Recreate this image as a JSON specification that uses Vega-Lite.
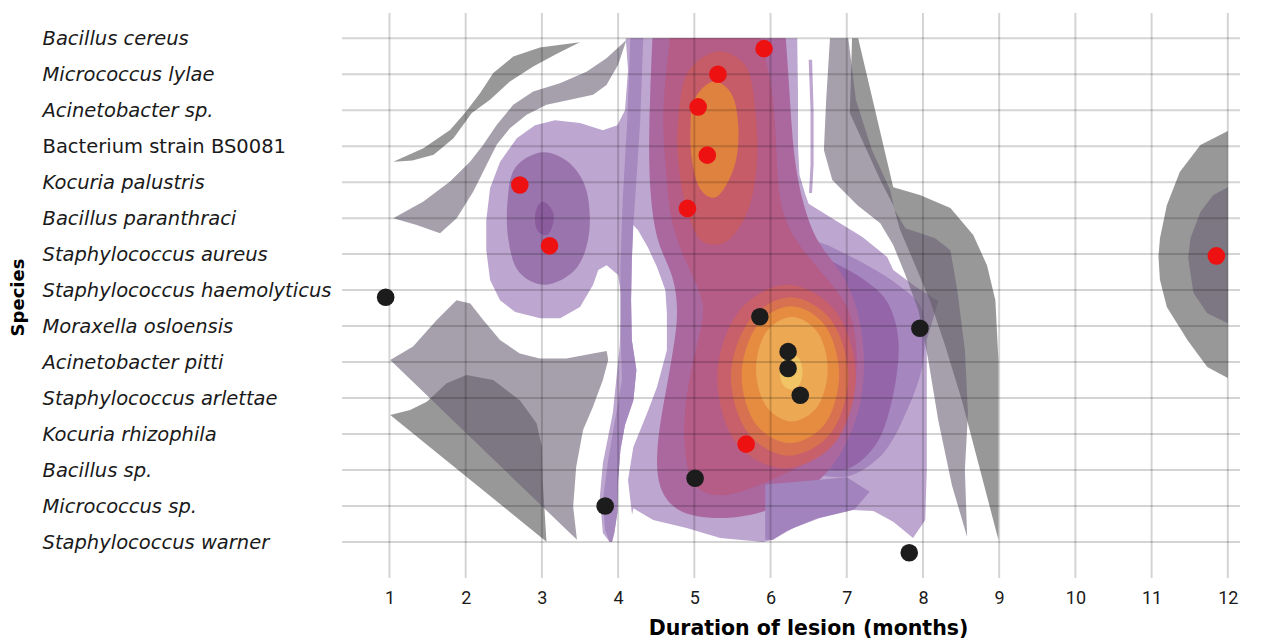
{
"$schema": "https://vega.github.io/schema/vega-lite/v6.json",
"width": 898, "height": 565,
"autosize": {"type": "none"},
"padding": {"left": 342, "top": 13, "right": 30, "bottom": 61},
"background": "#ffffff",
"config": {"view": {"stroke": null}},
"datasets": {
"polys": [
{"p":"P1","l":"P1","x":4.10,"y":1.0},{"p":"P1","l":"P1","x":5.2,"y":1.0},{"p":"P1","l":"P1","x":6.35,"y":1.0},{"p":"P1","l":"P1","x":6.36,"y":2.5},{"p":"P1","l":"P1","x":6.36,"y":4.0},{"p":"P1","l":"P1","x":6.38,"y":4.8},{"p":"P1","l":"P1","x":6.45,"y":5.3},{"p":"P1","l":"P1","x":6.5,"y":5.6},{"p":"P1","l":"P1","x":6.78,"y":5.97},{"p":"P1","l":"P1","x":7.21,"y":6.53},{"p":"P1","l":"P1","x":7.53,"y":7.08},{"p":"P1","l":"P1","x":7.61,"y":7.44},{"p":"P1","l":"P1","x":7.9,"y":7.9},{"p":"P1","l":"P1","x":8.2,"y":8.3},{"p":"P1","l":"P1","x":8.05,"y":9.39},{"p":"P1","l":"P1","x":8.05,"y":11.06},{"p":"P1","l":"P1","x":8.05,"y":13.0},{"p":"P1","l":"P1","x":8.03,"y":14.39},{"p":"P1","l":"P1","x":7.87,"y":14.89},{"p":"P1","l":"P1","x":7.61,"y":14.44},{"p":"P1","l":"P1","x":7.35,"y":14.14},{"p":"P1","l":"P1","x":7.08,"y":14.11},{"p":"P1","l":"P1","x":6.65,"y":14.33},{"p":"P1","l":"P1","x":6.30,"y":14.61},{"p":"P1","l":"P1","x":6.03,"y":14.94},{"p":"P1","l":"P1","x":5.90,"y":15.0},{"p":"P1","l":"P1","x":5.34,"y":14.89},{"p":"P1","l":"P1","x":4.90,"y":14.61},{"p":"P1","l":"P1","x":4.46,"y":14.39},{"p":"P1","l":"P1","x":4.20,"y":14.06},{"p":"P1","l":"P1","x":4.16,"y":14.5},{"p":"P1","l":"P1","x":3.99,"y":14.94},{"p":"P1","l":"P1","x":3.89,"y":15.0},{"p":"P1","l":"P1","x":3.80,"y":14.75},{"p":"P1","l":"P1","x":3.76,"y":13.75},{"p":"P1","l":"P1","x":3.80,"y":12.81},{"p":"P1","l":"P1","x":3.93,"y":11.42},{"p":"P1","l":"P1","x":4.02,"y":9.58},{"p":"P1","l":"P1","x":4.05,"y":8.28},{"p":"P1","l":"P1","x":4.0,"y":7.58},{"p":"P1","l":"P1","x":3.85,"y":7.31},{"p":"P1","l":"P1","x":3.74,"y":7.44},{"p":"P1","l":"P1","x":3.67,"y":7.86},{"p":"P1","l":"P1","x":3.50,"y":8.47},{"p":"P1","l":"P1","x":3.24,"y":8.78},{"p":"P1","l":"P1","x":2.98,"y":8.78},{"p":"P1","l":"P1","x":2.65,"y":8.61},{"p":"P1","l":"P1","x":2.45,"y":8.28},{"p":"P1","l":"P1","x":2.32,"y":7.72},{"p":"P1","l":"P1","x":2.27,"y":6.89},{"p":"P1","l":"P1","x":2.27,"y":6.06},{"p":"P1","l":"P1","x":2.32,"y":5.17},{"p":"P1","l":"P1","x":2.45,"y":4.44},{"p":"P1","l":"P1","x":2.67,"y":3.78},{"p":"P1","l":"P1","x":2.91,"y":3.42},{"p":"P1","l":"P1","x":3.17,"y":3.28},{"p":"P1","l":"P1","x":3.50,"y":3.36},{"p":"P1","l":"P1","x":3.80,"y":3.56},{"p":"P1","l":"P1","x":3.99,"y":3.42},{"p":"P1","l":"P1","x":4.09,"y":3.0},{"p":"P1","l":"P1","x":4.13,"y":1.89},
{"p":"P1t","l":"P1","x":6.50,"y":1.6},{"p":"P1t","l":"P1","x":6.545,"y":1.6},{"p":"P1t","l":"P1","x":6.565,"y":3.0},{"p":"P1t","l":"P1","x":6.565,"y":4.5},{"p":"P1t","l":"P1","x":6.545,"y":5.3},{"p":"P1t","l":"P1","x":6.505,"y":5.3},{"p":"P1t","l":"P1","x":6.525,"y":4.5},{"p":"P1t","l":"P1","x":6.525,"y":3.0},
{"p":"W2","l":"W","x":4.196,"y":6.19},{"p":"W2","l":"W","x":4.18,"y":7.17},{"p":"W2","l":"W","x":4.17,"y":8.28},{"p":"W2","l":"W","x":4.18,"y":9.39},{"p":"W2","l":"W","x":4.24,"y":10.22},{"p":"W2","l":"W","x":4.20,"y":11.06},{"p":"W2","l":"W","x":4.09,"y":11.75},{"p":"W2","l":"W","x":4.03,"y":12.44},{"p":"W2","l":"W","x":4.0,"y":13.28},{"p":"W2","l":"W","x":3.99,"y":14.19},{"p":"W2","l":"W","x":3.95,"y":14.75},{"p":"W2","l":"W","x":3.92,"y":15.0},{"p":"W2","l":"W","x":4.29,"y":15.0},{"p":"W2","l":"W","x":4.18,"y":14.19},{"p":"W2","l":"W","x":4.13,"y":13.28},{"p":"W2","l":"W","x":4.20,"y":12.36},{"p":"W2","l":"W","x":4.38,"y":11.42},{"p":"W2","l":"W","x":4.51,"y":10.69},{"p":"W2","l":"W","x":4.64,"y":9.67},{"p":"W2","l":"W","x":4.64,"y":8.64},{"p":"W2","l":"W","x":4.62,"y":8.0},{"p":"W2","l":"W","x":4.51,"y":7.36},{"p":"W2","l":"W","x":4.39,"y":6.81},{"p":"W2","l":"W","x":4.26,"y":6.33},
{"p":"S","l":"S","x":4.16,"y":1.0},{"p":"S","l":"S","x":4.12,"y":3.28},{"p":"S","l":"S","x":4.06,"y":5.5},{"p":"S","l":"S","x":4.03,"y":7.31},{"p":"S","l":"S","x":4.03,"y":9.11},{"p":"S","l":"S","x":4.05,"y":10.5},{"p":"S","l":"S","x":3.96,"y":11.61},{"p":"S","l":"S","x":3.87,"y":12.72},{"p":"S","l":"S","x":3.80,"y":13.83},{"p":"S","l":"S","x":3.83,"y":14.67},{"p":"S","l":"S","x":3.89,"y":15.0},{"p":"S","l":"S","x":3.92,"y":15.0},{"p":"S","l":"S","x":3.95,"y":14.75},{"p":"S","l":"S","x":3.99,"y":14.19},{"p":"S","l":"S","x":4.0,"y":13.28},{"p":"S","l":"S","x":4.03,"y":12.44},{"p":"S","l":"S","x":4.09,"y":11.75},{"p":"S","l":"S","x":4.20,"y":11.06},{"p":"S","l":"S","x":4.24,"y":10.22},{"p":"S","l":"S","x":4.18,"y":9.39},{"p":"S","l":"S","x":4.17,"y":8.28},{"p":"S","l":"S","x":4.18,"y":7.17},{"p":"S","l":"S","x":4.20,"y":6.19},{"p":"S","l":"S","x":4.24,"y":4.94},{"p":"S","l":"S","x":4.29,"y":3.28},{"p":"S","l":"S","x":4.33,"y":1.0},
{"p":"L2","l":"L2","x":2.55,"y":5.5},{"p":"L2","l":"L2","x":2.65,"y":4.6},{"p":"L2","l":"L2","x":3.0,"y":4.17},{"p":"L2","l":"L2","x":3.35,"y":4.45},{"p":"L2","l":"L2","x":3.58,"y":5.2},{"p":"L2","l":"L2","x":3.62,"y":6.4},{"p":"L2","l":"L2","x":3.45,"y":7.4},{"p":"L2","l":"L2","x":3.05,"y":7.85},{"p":"L2","l":"L2","x":2.7,"y":7.5},{"p":"L2","l":"L2","x":2.56,"y":6.6},
{"p":"L3","l":"L3","x":3.03,"y":5.55},{"p":"L3","l":"L3","x":3.14,"y":5.8},{"p":"L3","l":"L3","x":3.15,"y":6.1},{"p":"L3","l":"L3","x":3.1,"y":6.4},{"p":"L3","l":"L3","x":3.02,"y":6.47},{"p":"L3","l":"L3","x":2.93,"y":6.3},{"p":"L3","l":"L3","x":2.91,"y":5.95},{"p":"L3","l":"L3","x":2.95,"y":5.65},
{"p":"RP1","l":"RP1","x":6.15,"y":5.0},{"p":"RP1","l":"RP1","x":6.3,"y":6.3},{"p":"RP1","l":"RP1","x":6.8,"y":6.8},{"p":"RP1","l":"RP1","x":7.3,"y":7.35},{"p":"RP1","l":"RP1","x":7.7,"y":7.9},{"p":"RP1","l":"RP1","x":8.0,"y":8.6},{"p":"RP1","l":"RP1","x":8.0,"y":10.0},{"p":"RP1","l":"RP1","x":7.8,"y":11.3},{"p":"RP1","l":"RP1","x":7.45,"y":12.6},{"p":"RP1","l":"RP1","x":6.9,"y":13.2},{"p":"RP1","l":"RP1","x":6.4,"y":12.5},{"p":"RP1","l":"RP1","x":6.1,"y":9},{"p":"RP1","l":"RP1","x":6.1,"y":6},
{"p":"RP2","l":"RP2","x":6.2,"y":5.8},{"p":"RP2","l":"RP2","x":6.3,"y":6.7},{"p":"RP2","l":"RP2","x":6.8,"y":7.2},{"p":"RP2","l":"RP2","x":7.25,"y":7.75},{"p":"RP2","l":"RP2","x":7.55,"y":8.4},{"p":"RP2","l":"RP2","x":7.68,"y":9.5},{"p":"RP2","l":"RP2","x":7.6,"y":11.0},{"p":"RP2","l":"RP2","x":7.38,"y":12.3},{"p":"RP2","l":"RP2","x":6.95,"y":13.0},{"p":"RP2","l":"RP2","x":6.5,"y":12.5},{"p":"RP2","l":"RP2","x":6.2,"y":10},{"p":"RP2","l":"RP2","x":6.15,"y":7},
{"p":"C2","l":"C2","x":4.45,"y":1.0},{"p":"C2","l":"C2","x":4.45,"y":1.0},{"p":"C2","l":"C2","x":4.45,"y":1.0},{"p":"C2","l":"C2","x":5.3,"y":1.0},{"p":"C2","l":"C2","x":6.2,"y":1.0},{"p":"C2","l":"C2","x":6.2,"y":1.0},{"p":"C2","l":"C2","x":6.2,"y":1.0},{"p":"C2","l":"C2","x":6.25,"y":2.5},{"p":"C2","l":"C2","x":6.3,"y":4.3},{"p":"C2","l":"C2","x":6.42,"y":5.6},{"p":"C2","l":"C2","x":6.6,"y":6.7},{"p":"C2","l":"C2","x":6.95,"y":7.5},{"p":"C2","l":"C2","x":7.15,"y":8.5},{"p":"C2","l":"C2","x":7.25,"y":9.8},{"p":"C2","l":"C2","x":7.2,"y":11.2},{"p":"C2","l":"C2","x":7.0,"y":12.3},{"p":"C2","l":"C2","x":6.7,"y":13.3},{"p":"C2","l":"C2","x":6.0,"y":14.2},{"p":"C2","l":"C2","x":5.3,"y":14.4},{"p":"C2","l":"C2","x":4.75,"y":14.2},{"p":"C2","l":"C2","x":4.52,"y":13.5},{"p":"C2","l":"C2","x":4.5,"y":12.6},{"p":"C2","l":"C2","x":4.55,"y":11.7},{"p":"C2","l":"C2","x":4.62,"y":10.9},{"p":"C2","l":"C2","x":4.72,"y":9.7},{"p":"C2","l":"C2","x":4.8,"y":8.6},{"p":"C2","l":"C2","x":4.72,"y":7.5},{"p":"C2","l":"C2","x":4.52,"y":6.8},{"p":"C2","l":"C2","x":4.42,"y":5.5},{"p":"C2","l":"C2","x":4.4,"y":4.0},{"p":"C2","l":"C2","x":4.42,"y":2.5},
{"p":"SEAM","l":"SEAM","x":5.93,"y":13.4},{"p":"SEAM","l":"SEAM","x":6.5,"y":13.3},{"p":"SEAM","l":"SEAM","x":7.0,"y":13.2},{"p":"SEAM","l":"SEAM","x":7.3,"y":13.6},{"p":"SEAM","l":"SEAM","x":7.1,"y":14.1},{"p":"SEAM","l":"SEAM","x":6.6,"y":14.35},{"p":"SEAM","l":"SEAM","x":6.2,"y":14.7},{"p":"SEAM","l":"SEAM","x":6.03,"y":14.94},{"p":"SEAM","l":"SEAM","x":5.93,"y":14.94},
{"p":"C3","l":"C3","x":4.68,"y":1.0},{"p":"C3","l":"C3","x":4.68,"y":1.0},{"p":"C3","l":"C3","x":4.68,"y":1.0},{"p":"C3","l":"C3","x":5.3,"y":1.0},{"p":"C3","l":"C3","x":5.87,"y":1.0},{"p":"C3","l":"C3","x":5.87,"y":1.0},{"p":"C3","l":"C3","x":5.87,"y":1.0},{"p":"C3","l":"C3","x":6.04,"y":2.4},{"p":"C3","l":"C3","x":6.08,"y":4.24},{"p":"C3","l":"C3","x":6.11,"y":5.63},{"p":"C3","l":"C3","x":6.29,"y":6.56},{"p":"C3","l":"C3","x":6.66,"y":7.48},{"p":"C3","l":"C3","x":6.95,"y":8.2},{"p":"C3","l":"C3","x":7.1,"y":8.9},{"p":"C3","l":"C3","x":7.15,"y":10.0},{"p":"C3","l":"C3","x":7.08,"y":11.4},{"p":"C3","l":"C3","x":6.7,"y":12.6},{"p":"C3","l":"C3","x":6.0,"y":13.3},{"p":"C3","l":"C3","x":5.4,"y":13.8},{"p":"C3","l":"C3","x":5.0,"y":13.6},{"p":"C3","l":"C3","x":4.88,"y":12.8},{"p":"C3","l":"C3","x":4.85,"y":11.6},{"p":"C3","l":"C3","x":4.95,"y":10.2},{"p":"C3","l":"C3","x":5.1,"y":9.0},{"p":"C3","l":"C3","x":5.15,"y":8.3},{"p":"C3","l":"C3","x":4.85,"y":7.1},{"p":"C3","l":"C3","x":4.68,"y":6.0},{"p":"C3","l":"C3","x":4.64,"y":5.0},{"p":"C3","l":"C3","x":4.6,"y":4.0},{"p":"C3","l":"C3","x":4.58,"y":2.85},
{"p":"TR","l":"TR","x":4.78,"y":3.5},{"p":"TR","l":"TR","x":4.9,"y":2.0},{"p":"TR","l":"TR","x":5.3,"y":1.37},{"p":"TR","l":"TR","x":5.68,"y":1.8},{"p":"TR","l":"TR","x":5.8,"y":3.0},{"p":"TR","l":"TR","x":5.82,"y":4.5},{"p":"TR","l":"TR","x":5.7,"y":5.8},{"p":"TR","l":"TR","x":5.42,"y":6.65},{"p":"TR","l":"TR","x":5.08,"y":6.6},{"p":"TR","l":"TR","x":4.88,"y":5.6},{"p":"TR","l":"TR","x":4.8,"y":4.6},
{"p":"TO","l":"TO","x":4.95,"y":3.5},{"p":"TO","l":"TO","x":5.0,"y":2.7},{"p":"TO","l":"TO","x":5.25,"y":2.2},{"p":"TO","l":"TO","x":5.5,"y":2.6},{"p":"TO","l":"TO","x":5.58,"y":3.6},{"p":"TO","l":"TO","x":5.52,"y":4.6},{"p":"TO","l":"TO","x":5.3,"y":5.4},{"p":"TO","l":"TO","x":5.08,"y":5.2},{"p":"TO","l":"TO","x":4.97,"y":4.4},
{"p":"BR","l":"BR","x":7.12,"y":10.4},{"p":"BR","l":"BR","x":6.86,"y":12.2},{"p":"BR","l":"BR","x":6.2,"y":12.95},{"p":"BR","l":"BR","x":5.55,"y":12.25},{"p":"BR","l":"BR","x":5.3,"y":10.4},{"p":"BR","l":"BR","x":5.58,"y":8.6},{"p":"BR","l":"BR","x":6.22,"y":7.85},{"p":"BR","l":"BR","x":6.86,"y":8.6},
{"p":"BOR","l":"BOR","x":7.02,"y":10.4},{"p":"BOR","l":"BOR","x":6.8,"y":11.95},{"p":"BOR","l":"BOR","x":6.24,"y":12.6},{"p":"BOR","l":"BOR","x":5.7,"y":11.95},{"p":"BOR","l":"BOR","x":5.48,"y":10.4},{"p":"BOR","l":"BOR","x":5.72,"y":8.85},{"p":"BOR","l":"BOR","x":6.26,"y":8.2},{"p":"BOR","l":"BOR","x":6.8,"y":8.85},
{"p":"BO","l":"BO","x":6.9,"y":10.35},{"p":"BO","l":"BO","x":6.72,"y":11.7},{"p":"BO","l":"BO","x":6.26,"y":12.25},{"p":"BO","l":"BO","x":5.8,"y":11.7},{"p":"BO","l":"BO","x":5.62,"y":10.35},{"p":"BO","l":"BO","x":5.82,"y":9.0},{"p":"BO","l":"BO","x":6.27,"y":8.45},{"p":"BO","l":"BO","x":6.72,"y":9.0},
{"p":"BLO","l":"BLO","x":6.75,"y":10.2},{"p":"BLO","l":"BLO","x":6.62,"y":11.22},{"p":"BLO","l":"BLO","x":6.28,"y":11.65},{"p":"BLO","l":"BLO","x":5.94,"y":11.22},{"p":"BLO","l":"BLO","x":5.81,"y":10.2},{"p":"BLO","l":"BLO","x":5.94,"y":9.18},{"p":"BLO","l":"BLO","x":6.28,"y":8.75},{"p":"BLO","l":"BLO","x":6.62,"y":9.18},
{"p":"BY","l":"BY","x":6.42,"y":10.27},{"p":"BY","l":"BY","x":6.38,"y":10.62},{"p":"BY","l":"BY","x":6.27,"y":10.76},{"p":"BY","l":"BY","x":6.16,"y":10.62},{"p":"BY","l":"BY","x":6.12,"y":10.27},{"p":"BY","l":"BY","x":6.16,"y":9.92},{"p":"BY","l":"BY","x":6.27,"y":9.78},{"p":"BY","l":"BY","x":6.38,"y":9.92},
{"p":"B1","l":"GB","x":1.05,"y":4.43},{"p":"B1","l":"GB","x":1.445,"y":4.06},{"p":"B1","l":"GB","x":1.795,"y":3.55},{"p":"B1","l":"GB","x":2.0,"y":3.05},{"p":"B1","l":"GB","x":2.188,"y":2.53},{"p":"B1","l":"GB","x":2.362,"y":1.97},{"p":"B1","l":"GB","x":2.624,"y":1.51},{"p":"B1","l":"GB","x":2.974,"y":1.26},{"p":"B1","l":"GB","x":3.498,"y":1.11},{"p":"B1","l":"GB","x":3.19,"y":1.44},{"p":"B1","l":"GB","x":2.886,"y":1.79},{"p":"B1","l":"GB","x":2.58,"y":2.2},{"p":"B1","l":"GB","x":2.319,"y":2.71},{"p":"B1","l":"GB","x":2.08,"y":3.08},{"p":"B1","l":"GB","x":1.84,"y":3.78},{"p":"B1","l":"GB","x":1.58,"y":4.24},{"p":"B1","l":"GB","x":1.3,"y":4.4},
{"p":"B2","l":"GB","x":1.01,"y":11.47},{"p":"B2","l":"GB","x":1.27,"y":11.33},{"p":"B2","l":"GB","x":1.49,"y":11.1},{"p":"B2","l":"GB","x":1.75,"y":10.59},{"p":"B2","l":"GB","x":2.01,"y":10.36},{"p":"B2","l":"GB","x":2.36,"y":10.5},{"p":"B2","l":"GB","x":2.71,"y":11.06},{"p":"B2","l":"GB","x":2.93,"y":11.7},{"p":"B2","l":"GB","x":3.0,"y":12.35},{"p":"B2","l":"GB","x":3.01,"y":13.28},{"p":"B2","l":"GB","x":3.06,"y":14.99},
{"p":"B3","l":"GB","x":7.07,"y":1.0},{"p":"B3","l":"GB","x":7.15,"y":1.0},{"p":"B3","l":"GB","x":7.61,"y":5.14},{"p":"B3","l":"GB","x":7.96,"y":5.36},{"p":"B3","l":"GB","x":8.36,"y":5.72},{"p":"B3","l":"GB","x":8.66,"y":6.47},{"p":"B3","l":"GB","x":8.84,"y":7.31},{"p":"B3","l":"GB","x":8.95,"y":8.28},{"p":"B3","l":"GB","x":8.99,"y":9.94},{"p":"B3","l":"GB","x":8.99,"y":12.44},{"p":"B3","l":"GB","x":8.99,"y":14.94},{"p":"B3","l":"GB","x":8.75,"y":13.0},{"p":"B3","l":"GB","x":8.51,"y":11.06},{"p":"B3","l":"GB","x":8.29,"y":9.53},{"p":"B3","l":"GB","x":8.09,"y":8.28},{"p":"B3","l":"GB","x":7.87,"y":7.17},{"p":"B3","l":"GB","x":7.70,"y":6.33},{"p":"B3","l":"GB","x":7.61,"y":5.64},{"p":"B3","l":"GB","x":7.44,"y":4.94},{"p":"B3","l":"GB","x":7.04,"y":3.08},
{"p":"B4","l":"GB","x":12.0,"y":3.58},{"p":"B4","l":"GB","x":11.64,"y":3.97},{"p":"B4","l":"GB","x":11.37,"y":4.72},{"p":"B4","l":"GB","x":11.20,"y":5.64},{"p":"B4","l":"GB","x":11.11,"y":6.56},{"p":"B4","l":"GB","x":11.09,"y":7.06},{"p":"B4","l":"GB","x":11.11,"y":7.72},{"p":"B4","l":"GB","x":11.20,"y":8.47},{"p":"B4","l":"GB","x":11.47,"y":9.39},{"p":"B4","l":"GB","x":11.73,"y":10.14},{"p":"B4","l":"GB","x":12.0,"y":10.44},
{"p":"A1","l":"GA","x":1.05,"y":6.0},{"p":"A1","l":"GA","x":1.445,"y":5.54},{"p":"A1","l":"GA","x":1.795,"y":4.98},{"p":"A1","l":"GA","x":2.057,"y":4.43},{"p":"A1","l":"GA","x":2.231,"y":3.96},{"p":"A1","l":"GA","x":2.406,"y":3.41},{"p":"A1","l":"GA","x":2.624,"y":2.85},{"p":"A1","l":"GA","x":2.886,"y":2.48},{"p":"A1","l":"GA","x":3.236,"y":2.25},{"p":"A1","l":"GA","x":3.585,"y":1.93},{"p":"A1","l":"GA","x":3.847,"y":1.56},{"p":"A1","l":"GA","x":4.109,"y":1.05},{"p":"A1","l":"GA","x":4.0,"y":1.74},{"p":"A1","l":"GA","x":3.847,"y":2.30},{"p":"A1","l":"GA","x":3.672,"y":2.57},{"p":"A1","l":"GA","x":3.367,"y":2.71},{"p":"A1","l":"GA","x":3.061,"y":2.85},{"p":"A1","l":"GA","x":2.80,"y":3.13},{"p":"A1","l":"GA","x":2.58,"y":3.5},{"p":"A1","l":"GA","x":2.406,"y":3.96},{"p":"A1","l":"GA","x":2.275,"y":4.52},{"p":"A1","l":"GA","x":2.10,"y":5.26},{"p":"A1","l":"GA","x":1.882,"y":6.0},{"p":"A1","l":"GA","x":1.664,"y":6.42},{"p":"A1","l":"GA","x":1.358,"y":6.19},
{"p":"A2","l":"GA","x":1.01,"y":9.94},{"p":"A2","l":"GA","x":1.31,"y":9.57},{"p":"A2","l":"GA","x":1.62,"y":8.83},{"p":"A2","l":"GA","x":1.88,"y":8.28},{"p":"A2","l":"GA","x":2.06,"y":8.37},{"p":"A2","l":"GA","x":2.23,"y":8.83},{"p":"A2","l":"GA","x":2.45,"y":9.39},{"p":"A2","l":"GA","x":2.71,"y":9.76},{"p":"A2","l":"GA","x":2.97,"y":9.9},{"p":"A2","l":"GA","x":3.32,"y":9.9},{"p":"A2","l":"GA","x":3.67,"y":9.76},{"p":"A2","l":"GA","x":3.85,"y":9.69},{"p":"A2","l":"GA","x":3.87,"y":9.94},{"p":"A2","l":"GA","x":3.80,"y":10.5},{"p":"A2","l":"GA","x":3.67,"y":11.24},{"p":"A2","l":"GA","x":3.54,"y":11.89},{"p":"A2","l":"GA","x":3.45,"y":12.91},{"p":"A2","l":"GA","x":3.41,"y":14.02},{"p":"A2","l":"GA","x":3.46,"y":14.94},
{"p":"A3","l":"GA","x":6.78,"y":1.0},{"p":"A3","l":"GA","x":6.73,"y":2.72},{"p":"A3","l":"GA","x":6.70,"y":4.11},{"p":"A3","l":"GA","x":6.81,"y":4.94},{"p":"A3","l":"GA","x":7.14,"y":5.64},{"p":"A3","l":"GA","x":7.44,"y":6.14},{"p":"A3","l":"GA","x":7.61,"y":6.75},{"p":"A3","l":"GA","x":7.77,"y":7.58},{"p":"A3","l":"GA","x":7.94,"y":8.56},{"p":"A3","l":"GA","x":8.07,"y":9.94},{"p":"A3","l":"GA","x":8.20,"y":11.61},{"p":"A3","l":"GA","x":8.38,"y":13.42},{"p":"A3","l":"GA","x":8.58,"y":14.86},{"p":"A3","l":"GA","x":8.55,"y":13.0},{"p":"A3","l":"GA","x":8.59,"y":11.42},{"p":"A3","l":"GA","x":8.55,"y":9.67},{"p":"A3","l":"GA","x":8.45,"y":8.0},{"p":"A3","l":"GA","x":8.36,"y":6.89},{"p":"A3","l":"GA","x":8.16,"y":6.56},{"p":"A3","l":"GA","x":7.77,"y":6.28},{"p":"A3","l":"GA","x":7.63,"y":5.78},{"p":"A3","l":"GA","x":7.57,"y":5.22},{"p":"A3","l":"GA","x":7.33,"y":4.11},{"p":"A3","l":"GA","x":7.12,"y":2.72},{"p":"A3","l":"GA","x":7.02,"y":1.0},
{"p":"A4","l":"GA","x":12.0,"y":5.14},{"p":"A4","l":"GA","x":11.81,"y":5.36},{"p":"A4","l":"GA","x":11.64,"y":5.83},{"p":"A4","l":"GA","x":11.51,"y":6.56},{"p":"A4","l":"GA","x":11.48,"y":7.11},{"p":"A4","l":"GA","x":11.55,"y":8.08},{"p":"A4","l":"GA","x":11.73,"y":8.64},{"p":"A4","l":"GA","x":12.0,"y":8.92}
],
"points": [
{"l":"red","x":5.915,"y":1.29},{"l":"red","x":5.31,"y":2.0},{"l":"red","x":5.05,"y":2.91},{"l":"red","x":5.17,"y":4.25},{"l":"red","x":2.71,"y":5.08},{"l":"red","x":4.91,"y":5.73},{"l":"red","x":3.10,"y":6.77},{"l":"red","x":11.85,"y":7.05},{"l":"red","x":5.68,"y":12.28},
{"l":"black","x":0.95,"y":8.2},{"l":"black","x":5.86,"y":8.74},{"l":"black","x":7.96,"y":9.06},{"l":"black","x":6.23,"y":9.71},{"l":"black","x":6.23,"y":10.18},{"l":"black","x":6.39,"y":10.92},{"l":"black","x":5.01,"y":13.23},{"l":"black","x":3.83,"y":14.0},{"l":"black","x":7.82,"y":15.3}
],
"vgrid": [{"x":1},{"x":2},{"x":3},{"x":4},{"x":5},{"x":6},{"x":7},{"x":8},{"x":9},{"x":10},{"x":11},{"x":12}],
"hgrid": [{"y":1},{"y":2},{"y":3},{"y":4},{"y":5},{"y":6},{"y":7},{"y":8},{"y":9},{"y":10},{"y":11},{"y":12},{"y":13},{"y":14},{"y":15}]
},
"layer": [
{
"data": {"name": "polys"},
"encoding": {
"x": {"field": "x", "type": "quantitative", "scale": {"domain": [0.377, 12.16], "nice": false, "zero": false},
 "axis": {"values": [1,2,3,4,5,6,7,8,9,10,11,12], "format": "d", "grid": false, "ticks": false, "domain": false, "labelFlush": false, "labelPadding": 11, "labelFont": "Roboto", "labelFontSize": 18, "labelColor": "#1a1a1a", "title": "Duration of lesion (months)", "titleFont": "DejaVu Sans", "titleFontSize": 20.5, "titleFontWeight": "bold", "titleColor": "#000000", "titleX": 466, "titleY": 50, "titleAlign": "center", "titleBaseline": "middle"}},
"y": {"field": "y", "type": "quantitative", "scale": {"domain": [0.3, 16.0], "reverse": true, "nice": false, "zero": false},
 "axis": {"values": [1,2,3,4,5,6,7,8,9,10,11,12,13,14,15], "labelExpr": "['Bacillus cereus','Micrococcus lylae','Acinetobacter sp.','Bacterium strain BS0081','Kocuria palustris','Bacillus paranthraci','Staphylococcus aureus','Staphylococcus haemolyticus','Moraxella osloensis','Acinetobacter pitti','Staphylococcus arlettae','Kocuria rhizophila','Bacillus sp.','Micrococcus sp.','Staphylococcus warner'][datum.value - 1]", "grid": false, "ticks": false, "domain": false, "labelAlign": "left", "labelBaseline": "middle", "labelPadding": 300, "labelLimit": 400, "labelOverlap": false, "labelFont": "DejaVu Sans", "labelFontSize": 19.5, "labelColor": "#1a1a1a", "labelFontStyle": {"condition": {"test": "datum.value == 4", "value": "normal"}, "value": "italic"}, "title": "Species", "titleFont": "DejaVu Sans", "titleFontSize": 18, "titleFontWeight": "bold", "titleColor": "#000000", "titleX": -324, "titleY": 284, "titleAngle": 270, "titleAlign": "center", "titleBaseline": "middle"}},
"fill": {"field": "l", "type": "nominal", "legend": null, "scale": {"domain": ["P1","W","S","L2","L3","RP1","RP2","C2","SEAM","C3","TR","TO","BR","BOR","BO","BLO","BY","GB","GA","red","black"], "range": ["#bda6cf","#ffffff","#a689bf","#9a74ad","#8b5c9d","#a586bf","#9466a9","#aa689f","#a283bd","#b55c87","#c55c68","#e0823f","#c8606b","#d77150","#e58c41","#eca853","#f1c566","#535353","#696173","#ee1111","#1c1c1c"]}},
"detail": {"field": "p"},
"order": {"value": null}
},
"layer": [
{"transform": [{"filter": "datum.l == 'P1'"}], "mark": {"type": "line", "interpolate": "linear-closed", "filled": true, "strokeWidth": 0}},
{"transform": [{"filter": "datum.l == 'W'"}], "mark": {"type": "line", "interpolate": "linear-closed", "filled": true, "strokeWidth": 0}},
{"transform": [{"filter": "datum.l == 'S'"}], "mark": {"type": "line", "interpolate": "linear-closed", "filled": true, "strokeWidth": 0}},
{"transform": [{"filter": "datum.l == 'L2'"}], "mark": {"type": "line", "interpolate": "cardinal-closed", "filled": true, "strokeWidth": 0}},
{"transform": [{"filter": "datum.l == 'L3'"}], "mark": {"type": "line", "interpolate": "cardinal-closed", "filled": true, "strokeWidth": 0}},
{"transform": [{"filter": "datum.l == 'RP1'"}], "mark": {"type": "line", "interpolate": "cardinal-closed", "filled": true, "strokeWidth": 0}},
{"transform": [{"filter": "datum.l == 'RP2'"}], "mark": {"type": "line", "interpolate": "cardinal-closed", "filled": true, "strokeWidth": 0}},
{"transform": [{"filter": "datum.l == 'C2'"}], "mark": {"type": "line", "interpolate": "basis-closed", "filled": true, "strokeWidth": 0}},
{"transform": [{"filter": "datum.l == 'SEAM'"}], "mark": {"type": "line", "interpolate": "linear-closed", "filled": true, "strokeWidth": 0}},
{"transform": [{"filter": "datum.l == 'C3'"}], "mark": {"type": "line", "interpolate": "basis-closed", "filled": true, "strokeWidth": 0}},
{"transform": [{"filter": "datum.l == 'TR'"}], "mark": {"type": "line", "interpolate": "cardinal-closed", "filled": true, "strokeWidth": 0}},
{"transform": [{"filter": "datum.l == 'TO'"}], "mark": {"type": "line", "interpolate": "cardinal-closed", "filled": true, "strokeWidth": 0}},
{"transform": [{"filter": "datum.l == 'BR'"}], "mark": {"type": "line", "interpolate": "cardinal-closed", "filled": true, "strokeWidth": 0}},
{"transform": [{"filter": "datum.l == 'BOR'"}], "mark": {"type": "line", "interpolate": "cardinal-closed", "filled": true, "strokeWidth": 0}},
{"transform": [{"filter": "datum.l == 'BO'"}], "mark": {"type": "line", "interpolate": "cardinal-closed", "filled": true, "strokeWidth": 0}},
{"transform": [{"filter": "datum.l == 'BLO'"}], "mark": {"type": "line", "interpolate": "cardinal-closed", "filled": true, "strokeWidth": 0}},
{"transform": [{"filter": "datum.l == 'BY'"}], "mark": {"type": "line", "interpolate": "cardinal-closed", "filled": true, "strokeWidth": 0}},
{"transform": [{"filter": "datum.l == 'GB'"}], "mark": {"type": "line", "interpolate": "linear-closed", "filled": true, "strokeWidth": 0, "fillOpacity": 0.6}},
{"transform": [{"filter": "datum.l == 'GA'"}], "mark": {"type": "line", "interpolate": "linear-closed", "filled": true, "strokeWidth": 0, "fillOpacity": 0.6}}
]
},
{
"data": {"name": "vgrid"},
"mark": {"type": "rule", "color": "#000000", "opacity": 0.17, "strokeWidth": 2},
"encoding": {"x": {"field": "x", "type": "quantitative", "scale": {"domain": [0.377, 12.16], "nice": false, "zero": false}}}
},
{
"data": {"name": "hgrid"},
"mark": {"type": "rule", "color": "#000000", "opacity": 0.17, "strokeWidth": 2},
"encoding": {"y": {"field": "y", "type": "quantitative", "scale": {"domain": [0.3, 16.0], "reverse": true, "nice": false, "zero": false}}}
},
{
"data": {"name": "points"},
"mark": {"type": "circle", "size": 310, "opacity": 1},
"encoding": {
"x": {"field": "x", "type": "quantitative", "scale": {"domain": [0.377, 12.16], "nice": false, "zero": false}},
"y": {"field": "y", "type": "quantitative", "scale": {"domain": [0.3, 16.0], "reverse": true, "nice": false, "zero": false}},
"fill": {"field": "l", "type": "nominal", "legend": null, "scale": {"domain": ["P1","W","S","L2","L3","RP1","RP2","C2","SEAM","C3","TR","TO","BR","BOR","BO","BLO","BY","GB","GA","red","black"], "range": ["#bda6cf","#ffffff","#a689bf","#9a74ad","#8b5c9d","#a586bf","#9466a9","#aa689f","#a283bd","#b55c87","#c55c68","#e0823f","#c8606b","#d77150","#e58c41","#eca853","#f1c566","#535353","#696173","#ee1111","#1c1c1c"]}}
}
}
]
}
